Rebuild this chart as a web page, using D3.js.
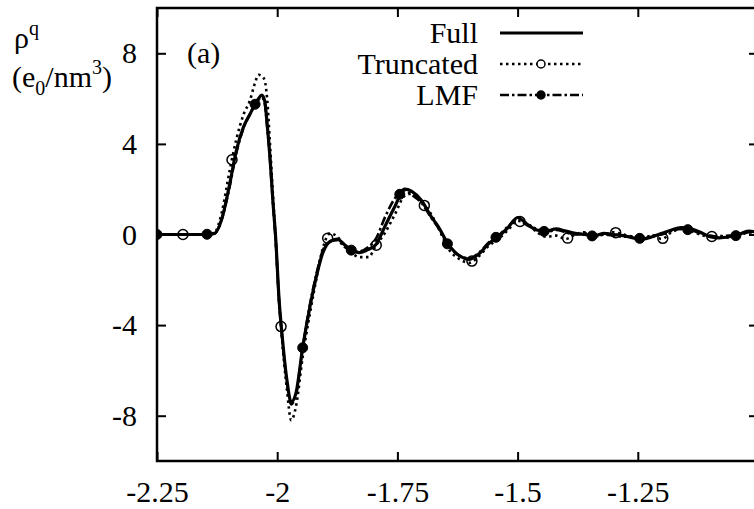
<!DOCTYPE html>
<html>
<head>
<meta charset="utf-8">
<script src="https://cdn.jsdelivr.net/npm/d3@7"></script>
<style>
  body { margin: 0; background: #fff; }
  text { font-family: "Liberation Serif", "Times New Roman", "DejaVu Serif", serif; fill: #000; }
  .axis line { stroke: #000; stroke-width: 2px; }
</style>
</head>
<body>
<div id="chart"></div>
<script>
// sample positions along r (shared by all three curves)
const xGrid = [-2.25, -2.2, -2.15, -2.13, -2.115, -2.1, -2.085, -2.07, -2.057, -2.046,
  -2.039, -2.032, -2.026, -2.021, -2.015, -2.009, -2.003, -1.996, -1.99, -1.98,
  -1.971, -1.961, -1.947, -1.932, -1.918, -1.905, -1.89, -1.875, -1.86, -1.845,
  -1.83, -1.81, -1.795, -1.775, -1.755, -1.735, -1.72, -1.70, -1.68, -1.665,
  -1.645, -1.62, -1.60, -1.58, -1.56, -1.54, -1.52, -1.50, -1.48, -1.46,
  -1.44, -1.42, -1.40, -1.38, -1.36, -1.34, -1.32, -1.30, -1.28, -1.26,
  -1.24, -1.22, -1.20, -1.18, -1.16, -1.14, -1.12, -1.10, -1.08, -1.06,
  -1.04, -1.02, -1.00];

const fullY = [0, 0, 0, 0.05, 0.7, 2.1, 3.7, 4.75, 5.3, 5.75,
  6.0, 6.15, 5.9, 4.9, 3.4, 1.5, -0.2, -2.9, -4.4, -6.4,
  -7.4, -7.0, -5.0, -3.2, -1.8, -0.8, -0.3, -0.2, -0.45, -0.7,
  -0.8, -0.65, -0.45, 0.4, 1.25, 2.0, 1.9, 1.5, 0.8, 0.35,
  -0.4, -0.95, -1.1, -0.85, -0.4, -0.1, 0.3, 0.75, 0.45, 0.2,
  0.15, 0.25, 0.15, 0.05, 0.0, -0.05, 0.05, 0.0, -0.05, -0.15,
  -0.2, -0.1, 0.05, 0.2, 0.3, 0.25, 0.1, -0.1, -0.15, -0.1,
  0.0, 0.15, 0.1];

const truncY = [0, 0, 0, 0.1, 1.0, 2.7, 4.2, 5.3, 5.9, 6.7,
  7.05, 7.0, 6.8, 6.0, 4.0, 1.8, -0.3, -3.0, -4.6, -6.8,
  -8.2, -7.6, -5.4, -3.5, -1.9, -0.6, 0.05, -0.1, -0.5, -0.8,
  -1.0, -1.0, -0.5, 0.1, 0.9, 1.7, 1.8, 1.45, 0.9, 0.3,
  -0.6, -1.1, -1.25, -0.95, -0.5, -0.2, 0.2, 0.6, 0.5, 0.1,
  -0.1, -0.05, -0.2, 0.0, 0.1, -0.05, 0.0, 0.1, 0.0, -0.1,
  -0.15, -0.05, -0.2, 0.1, 0.25, 0.15, 0.0, -0.1, -0.05, -0.15,
  0.05, 0.1, 0.05];

const lmfY = [0, 0, 0, 0.05, 0.7, 2.0, 3.6, 4.7, 5.3, 5.75,
  5.95, 6.05, 5.8, 4.8, 3.3, 1.4, -0.3, -3.0, -4.5, -6.5,
  -7.5, -7.1, -5.0, -3.1, -1.7, -0.7, -0.3, -0.25, -0.55, -0.7,
  -0.75, -0.55, -0.2, 0.8, 1.6, 1.95, 1.75, 1.4, 0.75, 0.3,
  -0.45, -0.95, -1.05, -0.8, -0.35, -0.05, 0.35, 0.7, 0.4, 0.25,
  0.1, 0.2, 0.1, 0.0, 0.05, -0.1, 0.0, -0.05, -0.1, -0.1,
  -0.2, -0.05, 0.0, 0.15, 0.25, 0.2, 0.05, -0.05, -0.1, -0.05,
  -0.05, 0.1, 0.1];

// where the point symbols sit on the curves
const truncMarkX = [-2.196, -2.094, -1.992, -1.895, -1.794, -1.694, -1.595, -1.495, -1.396, -1.296, -1.198, -1.096];
const lmfMarkX = [-2.25, -2.146, -2.046, -1.947, -1.846, -1.745, -1.646, -1.545, -1.445, -1.345, -1.246, -1.146, -1.046];

const xTicks = [-2.25, -2, -1.75, -1.5, -1.25];
const yTicks = [-8, -4, 0, 4, 8];
const legendLabels = ["Full", "Truncated", "LMF"];

const width = 754, height = 509;
const plot = {left: 157, right: 758, top: 8, bottom: 461};
const tick = 9;
const fontSize = 30;
const serif = "Liberation Serif, Times New Roman, DejaVu Serif, serif";

const svg = d3.select("#chart").append("svg")
    .attr("width", width)
    .attr("height", height);

const x = d3.scaleLinear().domain([-2.25, -1.0]).range([plot.left, plot.right]);
const y = d3.scaleLinear().domain([-10, 10]).range([plot.bottom, plot.top]);

svg.append("defs").append("clipPath").attr("id", "clip")
  .append("rect")
    .attr("x", plot.left).attr("y", plot.top)
    .attr("width", plot.right - plot.left).attr("height", plot.bottom - plot.top);

// axes, ticks pointing inward on all four sides
const fmt = d => String(d);
svg.append("g").attr("class", "axis")
    .attr("transform", `translate(0, ${plot.bottom})`)
    .call(d3.axisBottom(x).tickValues(xTicks).tickSizeInner(-tick).tickSizeOuter(0).tickPadding(20).tickFormat(fmt))
    .call(g => g.select(".domain").remove());
svg.append("g").attr("class", "axis")
    .attr("transform", `translate(0, ${plot.top})`)
    .call(d3.axisTop(x).tickValues(xTicks).tickSizeInner(-tick).tickSizeOuter(0).tickFormat(""))
    .call(g => g.select(".domain").remove());
svg.append("g").attr("class", "axis")
    .attr("transform", `translate(${plot.left}, 0)`)
    .call(d3.axisLeft(y).tickValues(yTicks).tickSizeInner(-tick).tickSizeOuter(0).tickPadding(20).tickFormat(fmt))
    .call(g => g.select(".domain").remove());
svg.append("g").attr("class", "axis")
    .attr("transform", `translate(${plot.right}, 0)`)
    .call(d3.axisRight(y).tickValues(yTicks).tickSizeInner(-tick).tickSizeOuter(0).tickFormat(""))
    .call(g => g.select(".domain").remove());

svg.selectAll(".axis").attr("font-family", serif).attr("font-size", fontSize);
svg.selectAll(".axis text").attr("font-family", serif).attr("font-size", fontSize);

svg.append("rect")
    .attr("x", plot.left).attr("y", plot.top)
    .attr("width", plot.right - plot.left).attr("height", plot.bottom - plot.top)
    .attr("fill", "none").attr("stroke", "#000").attr("stroke-width", 2.5);

// y label
const yl = svg.append("text").attr("font-family", serif).attr("font-size", fontSize).attr("x", 14).attr("y", 48);
yl.append("tspan").text("ρ");
yl.append("tspan").attr("font-size", 20).attr("dy", -13).text("q");
const yl2 = svg.append("text").attr("font-family", serif).attr("font-size", fontSize).attr("x", 12).attr("y", 87);
yl2.append("tspan").text("(e");
yl2.append("tspan").attr("font-size", 20).attr("dy", 8).text("0");
yl2.append("tspan").attr("dy", -8).text("/nm");
yl2.append("tspan").attr("font-size", 20).attr("dy", -13).text("3");
yl2.append("tspan").attr("dy", 13).text(")");

svg.append("text").attr("font-family", serif).attr("font-size", fontSize)
    .attr("x", 187).attr("y", 63).text("(a)");

// curves
const series = [
  {name: legendLabels[0], ys: fullY, dash: null, width: 3.2, marks: [], open: false},
  {name: legendLabels[1], ys: truncY, dash: "2.5,3.5", width: 2.6, marks: truncMarkX, open: true},
  {name: legendLabels[2], ys: lmfY, dash: "9,3,2.5,3", width: 2.6, marks: lmfMarkX, open: false}
];

const line = d3.line()
    .x(d => x(d[0]))
    .y(d => y(d[1]))
    .curve(d3.curveMonotoneX);

const interp = (ys, xv) => {
  const i = Math.max(1, Math.min(xGrid.length - 1, d3.bisectLeft(xGrid, xv)));
  const t = (xv - xGrid[i - 1]) / (xGrid[i] - xGrid[i - 1]);
  return ys[i - 1] + t * (ys[i] - ys[i - 1]);
};

const plotG = svg.append("g").attr("clip-path", "url(#clip)");

// draw in reverse so Full sits on top
series.slice().reverse().forEach(s => {
  plotG.append("path")
      .datum(xGrid.map((xv, i) => [xv, s.ys[i]]))
      .attr("fill", "none")
      .attr("stroke", "#000")
      .attr("stroke-width", s.width)
      .attr("stroke-dasharray", s.dash)
      .attr("stroke-linejoin", "round")
      .attr("d", line);

  plotG.selectAll(null)
      .data(s.marks)
      .enter().append("circle")
      .attr("cx", d => x(d))
      .attr("cy", d => y(interp(s.ys, d)))
      .attr("r", 5)
      .attr("fill", s.open ? "none" : "#000")
      .attr("stroke", "#000")
      .attr("stroke-width", s.open ? 1.5 : 1);
});

// legend
const legend = svg.append("g");
series.forEach((s, i) => {
  const ly = 33 + i * 31;
  legend.append("text")
      .attr("x", 478).attr("y", ly + 10)
      .attr("text-anchor", "end")
      .attr("font-family", serif)
      .attr("font-size", fontSize)
      .text(s.name);
  legend.append("line")
      .attr("x1", 500).attr("x2", 583)
      .attr("y1", ly).attr("y2", ly)
      .attr("stroke", "#000")
      .attr("stroke-width", s.width)
      .attr("stroke-dasharray", s.dash);
  if (s.marks.length) {
    legend.append("circle")
        .attr("cx", 541).attr("cy", ly).attr("r", 4)
        .attr("fill", s.open ? "#fff" : "#000")
        .attr("stroke", "#000")
        .attr("stroke-width", 1.5);
  }
});
</script>
</body>
</html>
